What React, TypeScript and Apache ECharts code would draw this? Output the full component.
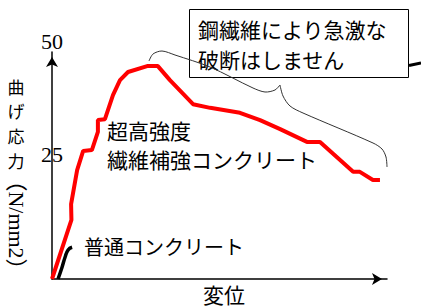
import React, { useEffect, useRef } from "react";
import * as echarts from "echarts";

// Ultra-high-strength fiber-reinforced concrete (red)
const uhpcDisp = [0, 5.8, 5.7, 7.5, 9.3, 11.9, 13.7, 13.7, 15.8, 18.2, 20.3, 22.7, 28.4, 31.6, 35.2, 42.1, 47.2, 56.1, 62.1, 68.1, 76.1, 80.0, 89.9, 91.9, 95.8, 97.9];
const uhpcStress = [0, 13.0, 16.5, 24.0, 28.2, 28.4, 32.4, 35.0, 35.2, 40.5, 43.8, 45.6, 46.9, 46.9, 43.8, 38.5, 37.7, 36.6, 35.0, 33.0, 30.2, 30.2, 23.6, 23.6, 21.8, 21.8];
// Ordinary concrete (black)
const normalDisp = [1.8, 3.0, 3.9, 4.8, 6.0];
const normalStress = [0, 2.6, 4.8, 6.4, 7.0];
// Axis ticks
const yTickLabels = [25, 50];
const xName = "変位";
const yNameChars = ["曲", "げ", "応", "力"];
const yNameUnit = "（N/mm2）";
const uhpcLabel = "超高強度\n繊維補強コンクリート";
const normalLabel = "普通コンクリート";
const calloutText = "鋼繊維により急激な\n破断はしません";

const CJK = "'Noto Sans CJK JP', sans-serif";
const SERIF = "'Liberation Serif', 'Noto Sans CJK JP', serif";

export default function App() {
  const ref = useRef<HTMLDivElement>(null);
  useEffect(() => {
    if (!ref.current) return;
    const chart = echarts.init(ref.current, undefined, { renderer: "svg" });
    const zip = (xs: number[], ys: number[]) => xs.map((x, i) => [x, ys[i]]);
    const yNameEls = yNameChars.map((c, i) => ({
      type: "text",
      x: 16,
      y: 86 + i * 24.8,
      style: { text: c, font: `17px ${CJK}`, fill: "#000", textAlign: "center", textVerticalAlign: "middle" },
    }));
    chart.setOption({
      animation: false,
      backgroundColor: "#ffffff",
      grid: { left: 52, right: 34, top: 52, bottom: 28, containLabel: false, outerBoundsMode: "none" },
      xAxis: {
        type: "value",
        min: 0,
        max: 100,
        axisLine: {
          show: true,
          symbol: ["none", "arrow"],
          symbolSize: [9, 10],
          symbolOffset: [0, -5],
          lineStyle: { color: "#000", width: 1.5 },
        },
        axisTick: { show: false },
        axisLabel: { show: false },
        splitLine: { show: false },
        name: xName,
        nameLocation: "middle",
        nameGap: 4,
        nameTextStyle: { fontFamily: CJK, fontSize: 21, color: "#000", verticalAlign: "top", padding: [0, 0, 0, 9] },
      },
      yAxis: {
        type: "value",
        min: 0,
        max: 50,
        interval: 25,
        axisLine: {
          show: true,
          symbol: ["none", "arrow"],
          symbolSize: [9, 10],
          symbolOffset: [0, -5],
          lineStyle: { color: "#000", width: 1.5 },
        },
        axisTick: { show: false },
        splitLine: { show: false },
        axisLabel: {
          margin: 0,
          align: "center",
          verticalAlign: "bottom",
          fontFamily: SERIF,
          fontSize: 22,
          color: "#000",
          formatter: (v: number) => (yTickLabels.includes(v) ? String(v) : ""),
        },
      },
      series: [
        {
          type: "line",
          data: zip(uhpcDisp, uhpcStress),
          showSymbol: false,
          lineStyle: { color: "#ff0000", width: 4 },
          z: 3,
        },
        {
          type: "line",
          data: zip(normalDisp, normalStress),
          showSymbol: false,
          smooth: true,
          lineStyle: { color: "#000", width: 3.5 },
          z: 3,
        },
      ],
      graphic: [
        ...yNameEls,
        {
          type: "text",
          x: 16,
          y: 225,
          rotation: -Math.PI / 2,
          style: { text: yNameUnit, font: `22px ${SERIF}`, fill: "#000", textAlign: "center", textVerticalAlign: "middle" },
        },
        {
          type: "text",
          x: 107,
          y: 115,
          style: { text: uhpcLabel, font: `21px ${CJK}`, lineHeight: 29, fill: "#000", textAlign: "left", textVerticalAlign: "top" },
        },
        {
          type: "text",
          x: 84,
          y: 246,
          style: { text: normalLabel, font: `20px ${CJK}`, fill: "#000", textAlign: "left", textVerticalAlign: "middle" },
        },
        {
          type: "rect",
          shape: { x: 189.5, y: 9.5, width: 219, height: 68 },
          style: { fill: "#fff", stroke: "#000", lineWidth: 1 },
        },
        {
          type: "text",
          x: 198,
          y: 14,
          style: { text: calloutText, font: `21px ${CJK}`, lineHeight: 30, fill: "#000", textAlign: "left", textVerticalAlign: "top" },
        },
        {
          type: "polyline",
          shape: {
            points: [[149, 61], [153, 54], [162, 51], [175, 55], [210, 67], [253, 88], [265, 92], [275, 90], [280, 85]],
            smooth: 0.3,
          },
          style: { stroke: "#333", lineWidth: 1, fill: "none" },
        },
        {
          type: "polyline",
          shape: {
            points: [[280, 85], [283, 96], [290, 106], [303, 113], [373, 143], [382, 149], [386, 157], [387, 167]],
            smooth: 0.3,
          },
          style: { stroke: "#333", lineWidth: 1, fill: "none" },
        },
        {
          type: "line",
          shape: { x1: 409, y1: 65.5, x2: 421, y2: 63 },
          style: { stroke: "#000", lineWidth: 3 },
        },
      ],
    });
    return () => chart.dispose();
  }, []);
  return (
    <div
      ref={ref}
      style={{ position: "fixed", left: 0, top: 0, width: 421, height: 307, background: "#fff" }}
    />
  );
}
